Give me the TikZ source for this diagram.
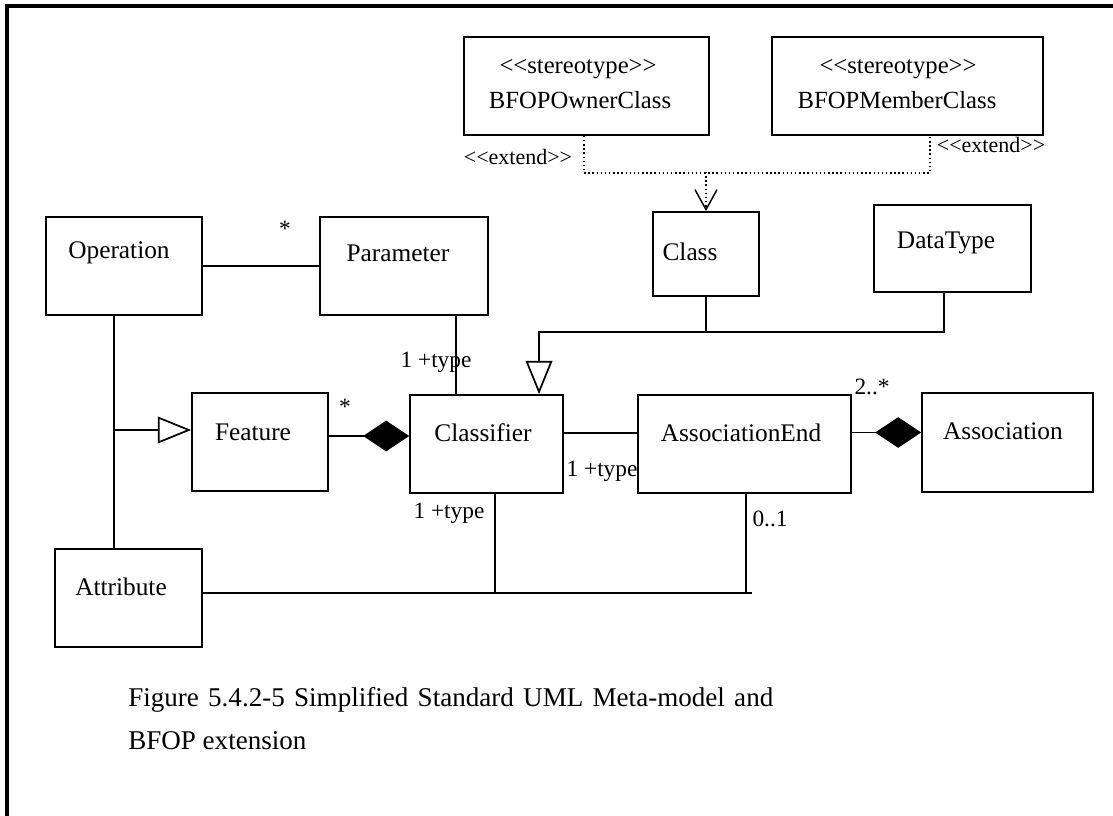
\documentclass[tikz,border=0pt]{standalone}
\usepackage{fontspec}
\setmainfont{Liberation Serif}
\usetikzlibrary{arrows.meta,calc}

\tikzset{
  cls/.style 2 args={draw, line width=1.3pt, minimum width=#1*0.75pt, minimum height=#2*0.75pt, inner sep=0pt},
  clsname/.style={font=\fontsize{19}{22}\selectfont, inner sep=0pt},
  stereo/.style={font=\fontsize{18.5}{22}\selectfont, inner sep=0pt},
  mult/.style={font=\fontsize{17.5}{20}\selectfont, inner sep=0pt},
  extlabel/.style={font=\fontsize{16.5}{19}\selectfont, inner sep=0pt},
  caption/.style={font=\fontsize{20.3}{25}\selectfont, inner sep=0pt},
  assoc/.style={line width=1.3pt},
  gen/.style={assoc, -{Triangle[open, length=25pt, width=20pt]}},
  comp/.style={assoc, -{Diamond[length=34.5pt, width=23pt]}},
  ext/.style={line width=1.1pt, dotted},
}

\begin{document}
\begin{tikzpicture}[x=0.75pt, y=-0.75pt]
\useasboundingbox (0,0) rectangle (1113,816);

% frame
\draw[line width=2.3pt] (7,816) -- (7,6) -- (1113,6);

% stereotypes
\node[cls={245}{98}] (owner) at (586.5,86) {};
\node[cls={271}{98}] (member) at (907.5,86) {};
\node[stereo] (ownerst) at (578,69) {<\kern0pt<stereotype>\kern0pt>};
\node[stereo] (ownername) at (580,100) {BFOPOwnerClass};
\node[stereo] (memberst) at (898,69) {<\kern0pt<stereotype>\kern0pt>};
\node[stereo] (membername) at (897,100) {BFOPMemberClass};

% classes
\node[cls={106}{84}] (class) at (706,254) {};
\node[cls={157}{87}] (datatype) at (952.5,248.5) {};
\node[cls={156}{98}] (operation) at (124,266) {};
\node[cls={168}{98}] (parameter) at (404,266) {};
\node[cls={136}{98}] (feature) at (260,442) {};
\node[cls={153}{98}] (classifier) at (486.5,444) {};
\node[cls={213}{98}] (assocend) at (744.5,444) {};
\node[cls={171}{99}] (association) at (1007.5,442.5) {};
\node[cls={147}{98}] (attribute) at (128.5,598) {};

% class names
\node[clsname] (classname) at (690,252) {Class};
\node[clsname] (datatypename) at (946,243) {DataType};
\node[clsname] (operationname) at (119,253) {Operation};
\node[clsname] (parametername) at (398,253) {Parameter};
\node[clsname] (featurename) at (253,432) {Feature};
\node[clsname] (classifiername) at (483,433) {Classifier};
\node[clsname] (assocendname) at (741,433) {AssociationEnd};
\node[clsname] (associationname) at (1003,431) {Association};
\node[clsname] (attributename) at (121,587) {Attribute};

% extend
\coordinate (extbar) at (0,172);
\draw[ext] ($(owner.south)+(-2.5,0)$) -- ++(0,37) -| ($(member.south)+(22.5,0)$);
\draw[ext, -{Straight Barb[length=15pt, width=16.5pt]}] (class.north |- extbar) -- (class.north);
\node[extlabel] (extleft) at (518,157) {<\kern0pt<extend>\kern0pt>};
\node[extlabel] (extright) at (991,145) {<\kern0pt<extend>\kern0pt>};

% generalizations
\coordinate (genbar) at (0,332);
\coordinate (clstop) at ($(classifier.north)+(52.5,0)$);
\draw[gen] ($(datatype.south)+(-8.5,0)$) |- (genbar -| clstop) -- (clstop);
\draw[assoc] (class.south) -- (class.south |- genbar);
\coordinate (opdrop) at ($(operation.south)+(-10,0)$);
\coordinate (featin) at ($(feature.west)+(0,-12)$);
\draw[assoc] (opdrop) -- (opdrop |- attribute.north);
\draw[gen] (opdrop |- featin) -- (featin);

% associations
\draw[assoc] (operation.east) -- (parameter.west);
\coordinate (pardrop) at ($(parameter.south)+(52,0)$);
\draw[assoc] (pardrop) -- (pardrop |- classifier.north);
\draw[comp] ($(feature.east)+(0,-6)$) -- ($(classifier.west)+(0,-8)$);
\draw[assoc] ($(classifier.east)+(0,-11)$) -- ($(assocend.west)+(0,-11)$);
\draw[comp] ($(assocend.east)+(0,-11.5)$) -- ($(association.west)+(0,-10)$);
\coordinate (attrline) at ($(attribute.east)+(0,-5)$);
\coordinate (clsdrop) at ($(classifier.south)+(8.5,0)$);
\coordinate (aedrop) at ($(assocend.south)+(1.5,0)$);
\coordinate (lineend) at ($(assocend.south)+(7.5,0)$);
\draw[assoc] (attrline) -- (attrline -| lineend);
\draw[assoc] (clsdrop) -- (clsdrop |- attrline);
\draw[assoc] (aedrop) -- (aedrop |- attrline);

% multiplicities
\node[mult] (opstar) at (285,229) {*};
\node[mult] (partype) at (436,362) {1 +type};
\node[mult] (featstar) at (345,407) {*};
\node[mult] (aetype) at (602,471) {1 +type};
\node[mult] (assocmult) at (872,387) {2..*};
\node[mult] (clstype) at (449,513) {1 +type};
\node[mult] (aemult) at (770,519) {0..1};

% caption
\node[caption, anchor=base west] (capa) at (128,706) {\makebox[483.75pt][s]{Figure 5.4.2-5 Simplified Standard UML Meta-model and}};
\node[caption, anchor=base west] (capb) at (128,749) {BFOP extension};

\end{tikzpicture}
\end{document}
